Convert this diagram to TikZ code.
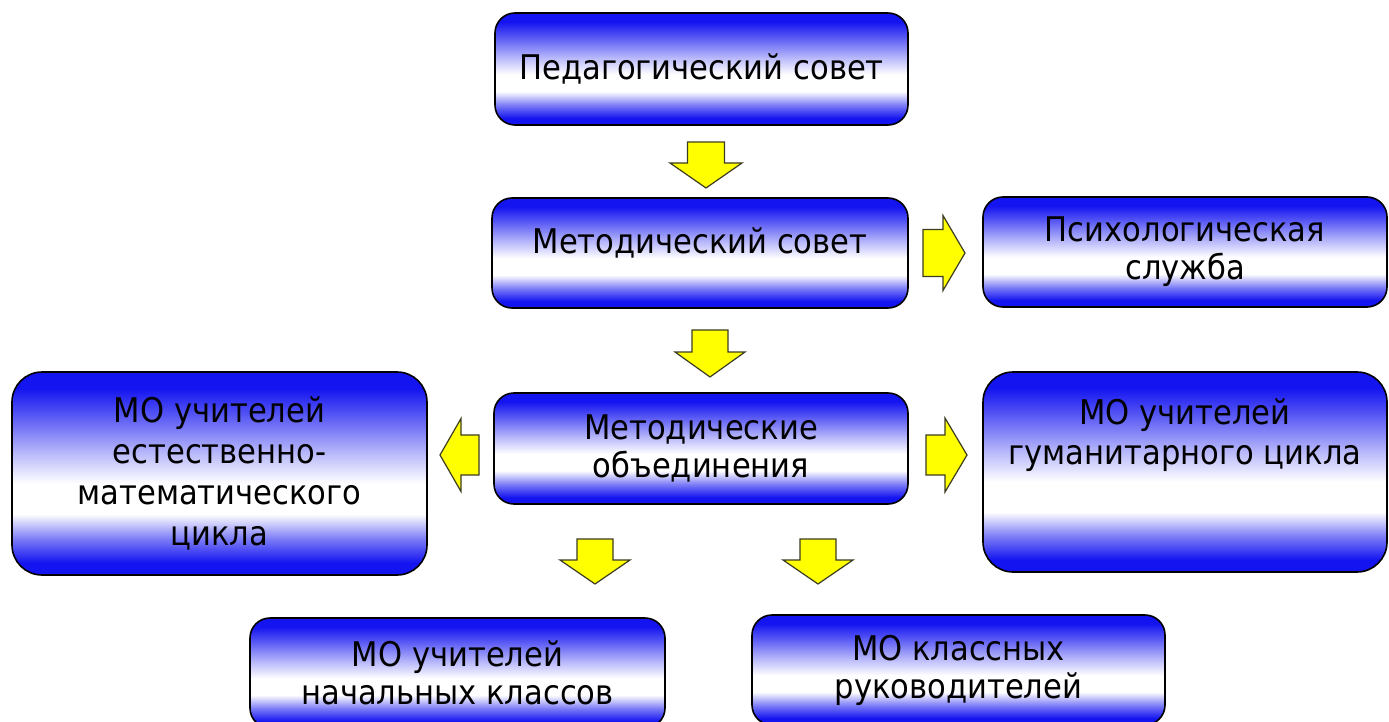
\documentclass[tikz,border=0pt]{standalone}
\usepackage{fontspec}
\setmainfont{DejaVu Sans}[FakeStretch=0.9]
\definecolor{bb}{RGB}{20,20,240}
\definecolor{ay}{RGB}{255,255,0}
\definecolor{ao}{RGB}{60,60,35}
\pgfdeclareverticalshading{boxshade}{100bp}{color(0bp)=(bb); color(25bp)=(bb); color(28bp)=(bb); color(34bp)=(bb!55!white); color(40bp)=(white); color(47.5bp)=(white); color(55bp)=(bb!30!white); color(64bp)=(bb!70!white); color(71bp)=(bb); color(75bp)=(bb); color(100bp)=(bb)}
\newcommand\blkarrow[7]{% x, y, angle, length, shaft length, shaft half width, head half width
  \begin{scope}[shift={(#1,#2)},rotate=#3]
    \draw[arr] (0,-#6) -- (#5,-#6) -- (#5,-#7) -- (#4,0) -- (#5,#7) -- (#5,#6) -- (0,#6) -- cycle;
  \end{scope}}
\tikzset{
  box/.style={draw=black, line width=1.6pt, rounded corners=20pt, shade, shading=boxshade,
    align=center, inner sep=0pt, font=\fontsize{34}{38}\selectfont},
  bigbox/.style={box, rounded corners=30pt},
  arr/.style={fill=ay, draw=ao, line width=1.2pt, line join=miter}
}
\begin{document}
\begin{tikzpicture}[x=1pt,y=-1pt]
\useasboundingbox (0,0) rectangle (1389,722);
\fill[white] (0,0) rectangle (1389,722);
\clip (0,0) rectangle (1389,722);

\node[box, minimum width=413pt, minimum height=112pt] (b1) at (701.5,69) {Педагогический совет};
\node[box, minimum width=416pt, minimum height=110pt, text height=25pt, text depth=25pt] (b2) at (700,253) {Методический совет};
\node[box, minimum width=404pt, minimum height=110pt] (b3) at (1185,252) {Психологическая\\служба};
\node[box, minimum width=414pt, minimum height=111pt] (b4) at (701,448.5) {Методические\\объединения};
\node[bigbox, minimum width=415pt, minimum height=203pt, font=\fontsize{34}{41}\selectfont] (b5) at (219.5,473.5) {МО учителей\\естественно-\\математического\\цикла};
\node[bigbox, minimum width=404pt, minimum height=200pt, font=\fontsize{34}{40}\selectfont] (b6) at (1185,472) {МО учителей\\гуманитарного цикла\\\mbox{}\\\mbox{}};
\node[box, minimum width=415pt, minimum height=110pt] (b7) at (457.5,673) {МО учителей\\начальных классов};
\node[box, minimum width=413pt, minimum height=110pt] (b8) at (958.5,670) {МО классных\\руководителей};

% arrows
\blkarrow{706}{142}{-90}{46}{21}{18.5}{36}
\blkarrow{710}{330}{-90}{47}{22}{18}{35}
\blkarrow{923}{253}{0}{42}{20}{23.5}{37.5}
\blkarrow{479}{455}{180}{39}{18}{20}{36.5}
\blkarrow{926}{455}{0}{41}{19}{20}{37}
\blkarrow{595}{539}{-90}{45}{21}{18}{35}
\blkarrow{818}{539}{-90}{45}{21}{18}{35}
\end{tikzpicture}
\end{document}
